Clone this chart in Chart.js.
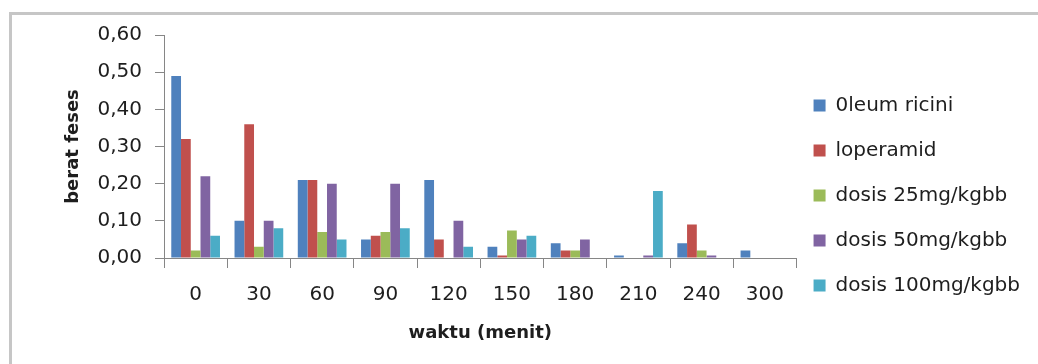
<!DOCTYPE html>
<html>
<head>
<meta charset="utf-8">
<script src="https://cdn.jsdelivr.net/npm/chart.js@4"></script>
<style>
  body { margin: 0; background: #fff; }
  #wrap { position: relative; width: 1038px; height: 364px; overflow: hidden; }
  #frame { position: absolute; left: 9px; top: 12px; width: 1200px; height: 500px;
           border-left: 3px solid #c6c6c6; border-top: 3px solid #c6c6c6; }
  #chart-box { position: absolute; left: 0; top: 0; width: 1038px; height: 364px; }
</style>
</head>
<body>
<div id="wrap">
  <div id="frame"></div>
  <div id="chart-box"><canvas id="beratChart"></canvas></div>
</div>
<script>
const waktu = ["0", "30", "60", "90", "120", "150", "180", "210", "240", "300"];
const oleumRicini = [0.49, 0.10, 0.21, 0.05, 0.21, 0.03, 0.04, 0.007, 0.04, 0.02];
const loperamid   = [0.32, 0.36, 0.21, 0.06, 0.05, 0.007, 0.02, 0, 0.09, 0];
const dosis25     = [0.02, 0.03, 0.07, 0.07, 0, 0.074, 0.02, 0, 0.02, 0];
const dosis50     = [0.22, 0.10, 0.20, 0.20, 0.10, 0.05, 0.05, 0.007, 0.007, 0];
const dosis100    = [0.06, 0.08, 0.05, 0.08, 0.03, 0.06, 0, 0.18, 0, 0];
const yTicks = [0, 0.1, 0.2, 0.3, 0.4, 0.5, 0.6];

const textColor = "#1e1e1e";
const axisColor = "#868686";

// nudge legend to sit where the original one is
const legendNudge = {
    id: "legendNudge",
    afterLayout(chart) {
        const lg = chart.legend;
        lg.left -= 8; lg.right -= 8;
        lg.top += 6; lg.bottom += 6;
    }
};

function makeSet(label, data, color) {
    return {
        label: label,
        data: data,
        backgroundColor: color,
        borderWidth: 0,
        barPercentage: 1,
        categoryPercentage: 0.77
    };
}

new Chart(document.getElementById("beratChart"), {
    type: "bar",
    data: {
        labels: waktu,
        datasets: [
            makeSet("0leum ricini", oleumRicini, "#4f81bd"),
            makeSet("loperamid", loperamid, "#c0504d"),
            makeSet("dosis 25mg/kgbb", dosis25, "#9bbb59"),
            makeSet("dosis 50mg/kgbb", dosis50, "#8064a2"),
            makeSet("dosis 100mg/kgbb", dosis100, "#4bacc6")
        ]
    },
    options: {
        responsive: true,
        maintainAspectRatio: false,
        animation: false,
        layout: { padding: { left: 63, top: 35, right: 0, bottom: 20 } },
        scales: {
            x: {
                afterFit(scale) { scale.height = 86; },
                grid: { offset: true, drawOnChartArea: false, tickLength: 10, color: axisColor },
                border: { color: axisColor, width: 1 },
                ticks: { color: textColor, padding: 15, maxRotation: 0, autoSkip: false,
                         font: { family: "DejaVu Sans", size: 20 } },
                title: { display: true, text: "waktu (menit)", color: textColor,
                         padding: { top: 0, bottom: 0 },
                         font: { family: "DejaVu Sans", size: 18, weight: "bold" } }
            },
            y: {
                min: 0,
                max: 0.6,
                afterBuildTicks(scale) { scale.ticks = yTicks.map(v => ({ value: v })); },
                afterFit(scale) { scale.width = 164 - 63; },
                grid: { drawOnChartArea: false, tickLength: 9, color: axisColor },
                border: { color: axisColor, width: 1 },
                ticks: { color: textColor, padding: 13,
                         font: { family: "DejaVu Sans", size: 20 },
                         callback: v => v.toFixed(2).replace(".", ",") },
                title: { display: true, text: "berat feses", color: textColor,
                         padding: { top: 0, bottom: 0 },
                         font: { family: "DejaVu Sans", size: 18, weight: "bold" } }
            }
        },
        plugins: {
            legend: {
                position: "right",
                labels: { boxWidth: 12, boxHeight: 12, padding: 25, color: textColor,
                          font: { family: "DejaVu Sans", size: 20 } }
            },
            tooltip: { enabled: false }
        }
    },
    plugins: [legendNudge]
});
</script>
</body>
</html>
